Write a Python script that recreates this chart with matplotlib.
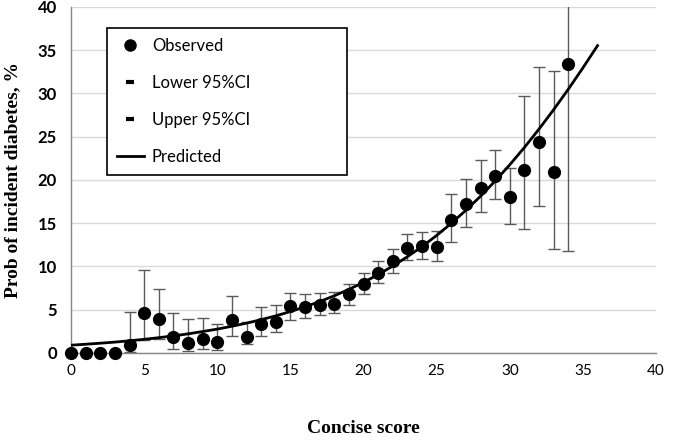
import matplotlib
matplotlib.use("Agg")
import matplotlib.pyplot as plt
from matplotlib.lines import Line2D
from matplotlib.legend_handler import HandlerLine2D

score = list(range(0, 35))
observed = [0, 0, 0, 0, 0.9, 4.6, 3.9, 1.8, 1.1, 1.6, 1.3, 3.8, 1.9, 3.4, 3.6,
            5.4, 5.3, 5.6, 5.7, 6.8, 8.0, 9.3, 10.6, 12.1, 12.4, 12.3, 15.4, 17.2,
            19.1, 20.5, 18.0, 21.2, 24.4, 20.9, 33.4]
lower_ci = [0, 0, 0, 0, 0.1, 1.5, 1.6, 0.5, 0.2, 0.5, 0.4, 2.0, 1.0, 2.0, 2.4,
            3.8, 4.0, 4.4, 4.6, 5.6, 6.8, 8.1, 9.3, 10.7, 10.9, 10.6, 12.8, 14.6,
            16.3, 17.8, 14.9, 14.3, 17.0, 12.0, 11.8]
upper_ci = [0, 0, 0, 0, 4.7, 9.6, 7.4, 4.6, 3.9, 4.0, 3.4, 6.6, 3.6, 5.3, 5.5,
            6.9, 6.8, 6.9, 7.0, 8.0, 9.3, 10.6, 12.0, 13.7, 14.0, 14.1, 18.4, 20.1,
            22.3, 23.5, 21.4, 29.7, 33.1, 32.6, 47.0]
pred_score = list(range(0, 37))
predicted = [0.90, 1.01, 1.13, 1.26, 1.41, 1.58, 1.77, 1.98, 2.21, 2.48, 2.76,
             3.09, 3.45, 3.85, 4.29, 4.79, 5.34, 5.94, 6.61, 7.35, 8.17, 9.06,
             10.05, 11.13, 12.30, 13.59, 14.99, 16.50, 18.12, 19.88, 21.76,
             23.76, 25.89, 28.13, 30.49, 32.96, 35.53]
xticks = [0, 5, 10, 15, 20, 25, 30, 35, 40]
yticks = [0, 5, 10, 15, 20, 25, 30, 35, 40]


class LeftMarkerHandler(HandlerLine2D):
    def get_xdata(self, legend, xdescent, ydescent, width, height, fontsize):
        xdata, _ = super().get_xdata(legend, xdescent, ydescent, width,
                                     height, fontsize)
        return xdata, [-xdescent + 0.22 * width]


fig = plt.figure(figsize=(6.75, 4.42), dpi=100)
ax = fig.add_axes([0.1052, 0.2014, 0.8667, 0.7828])

yerr_low = [o - l for o, l in zip(observed, lower_ci)]
yerr_up = [u - o for o, u in zip(observed, upper_ci)]
mask = [i for i in range(len(score)) if upper_ci[i] > 0]
ax.errorbar([score[i] for i in mask], [observed[i] for i in mask],
            yerr=[[yerr_low[i] for i in mask], [yerr_up[i] for i in mask]],
            fmt='none', ecolor='#5a5a5a', elinewidth=1.0, capsize=4,
            capthick=1.0, zorder=2)
ax.plot(pred_score, predicted, color='black', lw=2.0, zorder=3)
ax.plot(score, observed, 'o', color='black', markersize=8.5, zorder=4,
        clip_on=False)

ax.set_xlim(0, 40)
ax.set_ylim(0, 40)
ax.set_xticks(xticks)
ax.set_yticks(yticks)
ax.set_xticklabels([str(v) for v in xticks], fontsize=11, family='Lato')
ax.set_yticklabels([str(v) for v in yticks], fontsize=12, family='Lato',
                   fontweight='bold')
ax.tick_params(length=0, pad=8)
ax.tick_params(axis='y', pad=10)
ax.yaxis.grid(True, color='#d9d9d9', lw=1.0)
ax.set_axisbelow(True)
for s in ['top', 'right']:
    ax.spines[s].set_visible(False)
for s in ['left', 'bottom']:
    ax.spines[s].set_color('#868686')
    ax.spines[s].set_linewidth(1.0)

ax.set_xlabel('Concise score', fontsize=14, fontweight='bold',
              family='Liberation Serif', labelpad=30)
ax.set_ylabel('Prob of incident diabetes, %', fontsize=14, fontweight='bold',
              family='Liberation Serif', labelpad=12)

h_obs = Line2D([], [], ls='none', marker='o', color='black', markersize=8)
h_low = Line2D([], [], ls='none', marker='_', color='black', markersize=6,
               markeredgewidth=3)
h_up = Line2D([], [], ls='none', marker='_', color='black', markersize=6,
              markeredgewidth=3)
h_pred = Line2D([], [], color='black', lw=2)
labels = ['Observed', 'Lower 95%CI', 'Upper 95%CI', 'Predicted']
lm = LeftMarkerHandler(numpoints=1)
leg = ax.legend([h_obs, h_low, h_up, h_pred], labels, loc='upper left',
                bbox_to_anchor=(0.0615, 0.488, 0.41, 0.451), mode='expand',
                borderaxespad=0, fancybox=False, framealpha=1,
                edgecolor='black', prop={'family': 'Lato', 'size': 12},
                labelspacing=1.25, handlelength=1.6, handletextpad=0.5,
                borderpad=0.6,
                handler_map={h_obs: lm, h_low: lm, h_up: lm})
leg.get_frame().set_linewidth(1.2)

fig.savefig('out.png', dpi=100)
